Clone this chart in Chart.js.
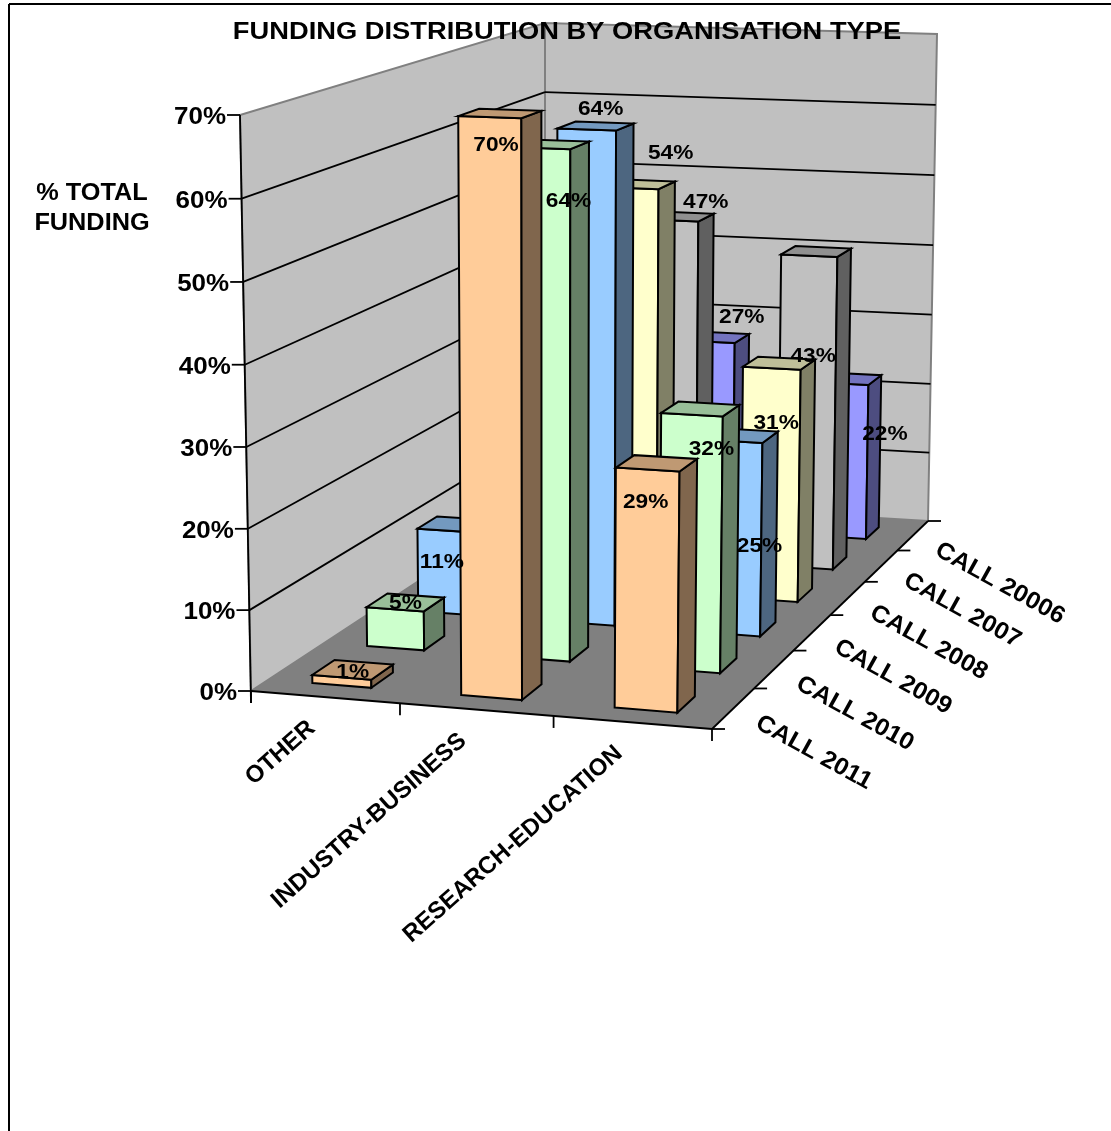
<!DOCTYPE html>
<html>
<head>
<meta charset="utf-8">
<title>Funding distribution by organisation type</title>
<script src="https://cdn.jsdelivr.net/npm/chart.js@4/dist/chart.umd.min.js"></script>
<style>
    html, body { margin: 0; padding: 0; background: #fff; }
    canvas { display: block; }
</style>
</head>
<body>
<canvas id="fundingChart" width="1111" height="1131"></canvas>
<script>
// Chart data, front row first
const categories = ['OTHER', 'INDUSTRY-BUSINESS', 'RESEARCH-EDUCATION'];
const calls = ['CALL 2011', 'CALL 2010', 'CALL 2009', 'CALL 2008', 'CALL 2007', 'CALL 20006'];
const call2011 = [1, 70, 29];
const call2010 = [5, 64, 32];
const call2009 = [11, 64, 25];
const call2008 = [null, 54, 31];
const call2007 = [null, 47, 43];
const call20006 = [null, 27, 22];
const callValues = [call2011, call2010, call2009, call2008, call2007, call20006];
const callColors = ['#FFCC99', '#CCFFCC', '#99CCFF', '#FFFFCC', '#C0C0C0', '#9999FF'];

const titleText = 'FUNDING DISTRIBUTION BY ORGANISATION TYPE';
const yTitleLines = ['% TOTAL', 'FUNDING'];

// Where the corners of the plot box land on the page: [u][v][d]
const box = [
    [[[251, 691], [545, 498]], [[240, 115], [545, 23]]],
    [[[712, 729], [928, 521]], [[719, 131], [937, 34]]]
];
const weightU = 0.955, weightV = 0.98, weightD = 1.21;
const rowFill = 0.4;

// The value labels were hand placed in the original, so each one has a nudge: [row][category]
const labelNudges = [
    [[0, 2], [-4, 32], [-11, 39]],
    [[0, 1], [19, 57], [11, 40]],
    [[-13, 38], [5, -17], [19, 111]],
    [null, [32, -31], [-3, 60]],
    [null, [27, -14], [-3, 105]],
    [null, [26, -20], [37, 55]]
];

// Perspective map from the unit box to the page
function project(u, v, d) {
    let x = 0, y = 0, w = 0;
    [0, 1].forEach(i => [0, 1].forEach(j => [0, 1].forEach(k => {
        const b = (i ? u * weightU : 1 - u) * (j ? v * weightV : 1 - v) * (k ? d * weightD : 1 - d);
        x += b * box[i][j][k][0];
        y += b * box[i][j][k][1];
        w += b;
    })));
    return [x / w, y / w];
}

function poly(ctx, points, fill, stroke, lineWidth) {
    ctx.beginPath();
    points.forEach((p, i) => i ? ctx.lineTo(p[0], p[1]) : ctx.moveTo(p[0], p[1]));
    ctx.closePath();
    if (fill) {
        ctx.fillStyle = fill;
        ctx.fill();
    }
    if (stroke) {
        ctx.strokeStyle = stroke;
        ctx.lineWidth = lineWidth;
        ctx.stroke();
    }
}

function line(ctx, a, b, color, lineWidth) {
    ctx.beginPath();
    ctx.moveTo(a[0], a[1]);
    ctx.lineTo(b[0], b[1]);
    ctx.strokeStyle = color;
    ctx.lineWidth = lineWidth;
    ctx.stroke();
}

function shade(hex, factor) {
    const n = parseInt(hex.slice(1), 16);
    const c = [n >> 16, (n >> 8) & 255, n & 255].map(v => Math.round(v * factor));
    return `rgb(${c[0]}, ${c[1]}, ${c[2]})`;
}

// size is the font height, stretch widens the glyphs like the original's text
function text(ctx, str, x, y, align, size, stretch, angle) {
    ctx.save();
    ctx.translate(x, y);
    ctx.rotate(angle || 0);
    ctx.scale(stretch, 1);
    ctx.font = `bold ${size}px "Liberation Sans", Arial, sans-serif`;
    ctx.fillStyle = '#000';
    ctx.textAlign = align;
    ctx.textBaseline = 'middle';
    ctx.fillText(str, 0, 0);
    ctx.restore();
}

// Draws walls, floor and axes before the bars
function drawBox(chart) {
    const ctx = chart.ctx;
    const { x: xScale, y: yScale, z: zScale } = chart.scales;
    const area = chart.chartArea;
    const toV = px => (area.bottom - px) / area.height;

    // Outer frame
    line(ctx, [9, 1131], [9, 4], '#000', 2);
    line(ctx, [9, 4], [1111, 4], '#000', 2);

    poly(ctx, [project(0, 0, 0), project(0, 1, 0), project(0, 1, 1), project(0, 0, 1)], '#C0C0C0', '#808080', 2);
    poly(ctx, [project(0, 0, 1), project(0, 1, 1), project(1, 1, 1), project(1, 0, 1)], '#C0C0C0', '#808080', 2);
    poly(ctx, [project(0, 0, 0), project(1, 0, 0), project(1, 0, 1), project(0, 0, 1)], '#808080', null, 0);

    // Gridlines and value axis
    yScale.ticks.forEach(tick => {
        const v = toV(yScale.getPixelForValue(tick.value));
        if (tick.value > 0 && tick.value < 70) {
            line(ctx, project(0, v, 0), project(0, v, 1), '#000', 1.8);
            line(ctx, project(0, v, 1), project(1, v, 1), '#000', 1.8);
        }
        const p = project(0, v, 0);
        line(ctx, [p[0] - 13, p[1]], p, '#000', 1.8);
        text(ctx, tick.label, p[0] - 14, p[1] + 3, 'right', 23, 1.13);
    });
    const bottom = project(0, 0, 0);
    line(ctx, project(0, 1, 0), [bottom[0], bottom[1] + 12], '#000', 1.8);

    // Floor edges
    line(ctx, project(0, 0, 0), project(1, 0, 0), '#000', 1.8);
    line(ctx, project(1, 0, 0), project(1, 0, 1), '#000', 1.8);

    // Category ticks and labels
    for (let i = 0; i <= categories.length; i++) {
        const p = project(i / categories.length, 0, 0);
        line(ctx, p, [p[0], p[1] + 12], '#000', 1.8);
    }
    categories.forEach((name, i) => {
        const p = project((xScale.getPixelForValue(i) - area.left) / area.width, 0, 0);
        text(ctx, name, p[0] - 13, p[1] + 28, 'right', 24, 1, -41.5 * Math.PI / 180);
    });

    // Depth ticks and labels
    for (let i = 0; i <= calls.length; i++) {
        const p = project(1, 0, i / calls.length);
        line(ctx, p, [p[0] + 13, p[1]], '#000', 1.8);
    }
    calls.forEach((name, i) => {
        const p = project(1, 0, (zScale.getPixelForValue(i) - area.left) / area.width);
        text(ctx, name, p[0] + 24, p[1] + 13, 'left', 24, 1.05, 29 * Math.PI / 180);
    });

    text(ctx, yTitleLines[0], 92, 194, 'center', 23, 1.1);
    text(ctx, yTitleLines[1], 92, 224, 'center', 23, 1.1);
}

// The bar elements give x, width and height; the projection gives the depth
function drawBars(chart) {
    const ctx = chart.ctx;
    const area = chart.chartArea;
    const zScale = chart.scales.z;
    const labels = [];
    const lastRow = chart.data.datasets.length - 1;

    for (let row = lastRow; row >= 0; row--) {
        const color = chart.data.datasets[row].backgroundColor;
        const mid = (zScale.getPixelForValue(row) - area.left) / area.width;
        const half = rowFill / calls.length / 2;
        const d0 = mid - half, d1 = mid + half;

        chart.getDatasetMeta(row).data.forEach((bar, i) => {
            if (callValues[row][i] === null) return;
            const u0 = (bar.x - bar.width / 2 - area.left) / area.width;
            const u1 = (bar.x + bar.width / 2 - area.left) / area.width;
            const v1 = (area.bottom - bar.y) / area.height;
            const v0 = (area.bottom - bar.base) / area.height;

            poly(ctx, [project(u0, v0, d0), project(u1, v0, d0), project(u1, v1, d0), project(u0, v1, d0)], color, '#000', 2);
            poly(ctx, [project(u1, v0, d0), project(u1, v0, d1), project(u1, v1, d1), project(u1, v1, d0)], shade(color, 0.5), '#000', 2);
            poly(ctx, [project(u0, v1, d0), project(u1, v1, d0), project(u1, v1, d1), project(u0, v1, d1)], shade(color, 0.75), '#000', 2);

            const p = project((u0 + u1) / 2, v1, mid);
            const nudge = labelNudges[row][i];
            labels.push([callValues[row][i] + '%', p[0] + nudge[0], p[1] + nudge[1]]);
        });
    }

    // Value labels go over every bar
    labels.forEach(l => text(ctx, l[0], l[1], l[2], 'center', 21, 1.08));
    text(ctx, titleText, 567, 33, 'center', 23, 1.187);
}

const box3d = {
    id: 'box3d',
    beforeDatasetsDraw(chart) {
        drawBox(chart);
        drawBars(chart);
        return false;
    }
};

new Chart(document.getElementById('fundingChart'), {
    type: 'bar',
    data: {
        labels: categories,
        datasets: calls.map((name, i) => ({
            label: name,
            data: callValues[i],
            backgroundColor: callColors[i],
            grouped: false,
            categoryPercentage: 0.4,
            barPercentage: 1
        }))
    },
    plugins: [box3d],
    options: {
        responsive: false,
        animation: false,
        layout: { padding: { left: 240, right: 399, top: 115, bottom: 440 } },
        plugins: { legend: { display: false }, tooltip: { enabled: false } },
        scales: {
            x: { display: false },
            z: { type: 'category', axis: 'x', labels: calls, offset: true, display: false, ticks: { autoSkip: false } },
            y: {
                display: false,
                min: 0,
                max: 70,
                ticks: { stepSize: 10, callback: v => v + '%' }
            }
        }
    }
});
</script>
</body>
</html>
